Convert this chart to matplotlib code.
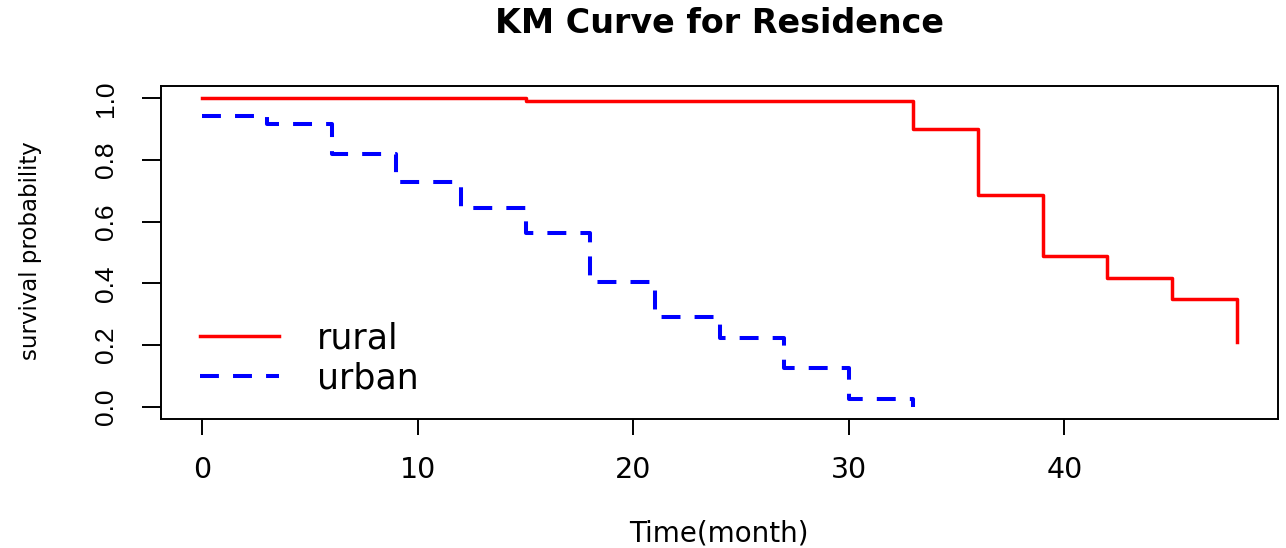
import matplotlib
matplotlib.use("Agg")
import matplotlib.pyplot as plt

# KM estimates
rural_time = [0, 15, 33, 36, 39, 42, 45, 48]
rural_surv = [1.0, 0.99, 0.902, 0.686, 0.49, 0.418, 0.35, 0.209]

urban_time = [0, 3, 6, 9, 12, 15, 18, 21, 24, 27, 30, 33]
urban_surv = [0.944, 0.918, 0.82, 0.729, 0.644, 0.562, 0.405, 0.29, 0.222, 0.127, 0.026, 0.0]

x_ticks = [0, 10, 20, 30, 40]
y_ticks = [0.0, 0.2, 0.4, 0.6, 0.8, 1.0]
y_ticklabels = ["0.0", "0.2", "0.4", "0.6", "0.8", "1.0"]

plt.rcParams['font.family'] = ['DejaVu Sans']

fig = plt.figure(figsize=(12.86, 5.48), dpi=100)
ax = fig.add_axes([161/1286, 1 - 419/548, 1117/1286, 333/548])

ax.step(rural_time, rural_surv, where='post', color='red', lw=2.5, label='rural')
ax.step(urban_time, urban_surv, where='post', color='blue', lw=2.9,
        linestyle=(0, (4.7, 3.5)), label='urban')

# R pads the data range by 4%
ax.set_xlim(-1.92, 49.92)
ax.set_ylim(-0.04, 1.04)
ax.set_xticks(x_ticks)
ax.set_yticks(y_ticks)
ax.set_yticklabels(y_ticklabels, rotation=90, va='center',
                   family=['Liberation Sans', 'DejaVu Sans'])
ax.tick_params(axis='x', direction='out', length=11.5, width=1.4, labelsize=20.5, pad=15)
ax.tick_params(axis='y', direction='out', length=13.7, width=1.4, labelsize=19, pad=17)
for s in ax.spines.values():
    s.set_linewidth(1.4)

fig.text(0.5595, 1 - 33/548, "KM Curve for Residence", fontsize=24,
         fontweight='bold', ha='center', va='baseline')

ax.set_xlabel("Time(month)", fontsize=20, va='baseline')
ax.xaxis.set_label_coords(0.4996, -0.369)
ax.set_ylabel("survival probability", fontsize=16.5)
ax.yaxis.set_label_coords(-0.1065, 0.5045)

ax.legend(loc='upper left', bbox_to_anchor=(0.0349, 0.294), frameon=False,
          borderaxespad=0, borderpad=0, fontsize=25, handlelength=2.28,
          handletextpad=1.1, labelspacing=0.17)

fig.savefig("out.png", dpi=100)
